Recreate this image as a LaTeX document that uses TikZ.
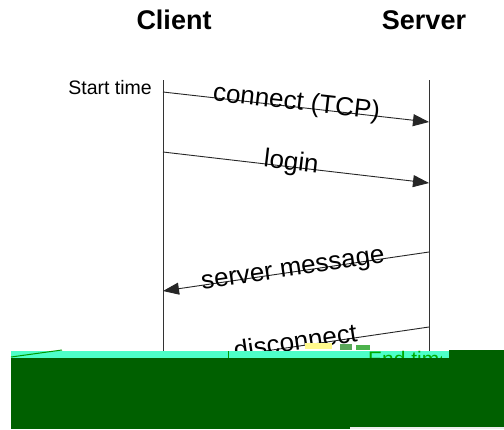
\documentclass[tikz,border=0pt]{standalone}
\usepackage{fontspec}
\setmainfont{Liberation Sans}
\usetikzlibrary{arrows.meta}
\definecolor{bandgreen}{RGB}{0,96,0}
\definecolor{bandcyan}{RGB}{77,255,200}
\definecolor{endgreen}{RGB}{0,170,0}
\tikzset{
  lifeline/.style={draw=black!80, line width=0.9pt},
  msg/.style={draw=black!85, line width=0.9pt, -{Triangle[length=16pt,width=12pt]}},
  msgplain/.style={draw=black!85, line width=0.9pt},
  title/.style={font=\fontsize{27}{30}\selectfont\bfseries, inner sep=0pt},
  msglabel/.style={font=\fontsize{26}{28}\selectfont, inner sep=0pt, sloped, anchor=base},
}
\begin{document}
\begin{tikzpicture}[x=1pt, y=-1pt]
  \useasboundingbox (0,0) rectangle (504,429);
  \fill[white] (0,0) rectangle (504,429);

  % headings
  \node[title] (client) at (174,20) {Client};
  \node[title] (server) at (424,20) {Server};

  % lifelines
  \coordinate (ctop) at (163,80);
  \coordinate (cbot) at (163,360);
  \coordinate (stop) at (429,80);
  \coordinate (sbot) at (429,360);
  \draw[lifeline] (ctop) -- (cbot);
  \draw[lifeline] (stop) -- (sbot);

  \node[font=\fontsize{19.5}{21}\selectfont, inner sep=0pt, anchor=east] (start) at (152,88) {Start time};

  % message endpoints
  \coordinate (c1) at (163,92);  \coordinate (s1) at (429,122);
  \coordinate (c2) at (163,152); \coordinate (s2) at (429,183);
  \coordinate (s3) at (429,252); \coordinate (c3) at (163,291);
  \coordinate (s4) at (429,327); \coordinate (c4) at (163,366);

  \draw[msg] (c1) -- node[msglabel, pos=0.5, yshift=-3pt] {connect (TCP)} (s1);
  \draw[msg] (c2) -- node[msglabel, pos=0.48, yshift=-3pt] {login} (s2);
  \draw[msg] (s3) -- node[msglabel, pos=0.51, yshift=-4pt] {server message} (c3);
  \draw[msgplain] (s4) -- node[msglabel, pos=0.5, yshift=-4pt] {disconnect} (c4);

  % damaged band at the bottom
  \fill[yellow!45] (305,343) rectangle (332,349);
  \fill[gray!70!green] (340,344) rectangle (352,350);
  \fill[green!40!gray] (356,345) rectangle (370,350);
  \fill[bandcyan] (11,351) rectangle (449,358);
  \draw[green!60!black, line width=1pt] (11,357) -- (40,353) -- (62,350);
  \draw[green!60!black, line width=0.8pt] (228,351) -- (228,358);
  \node[font=\fontsize{21}{23}\selectfont, text=endgreen, inner sep=0pt, anchor=base west] (endt) at (368,366) {End time};
  \fill[bandcyan] (442,352) rectangle (449,358);
  \fill[bandgreen] (449,350) rectangle (504,358);
  \fill[bandgreen] (11,358) rectangle (504,429);
  \fill[white!85!gray] (350,427) rectangle (504,429);
\end{tikzpicture}
\end{document}
